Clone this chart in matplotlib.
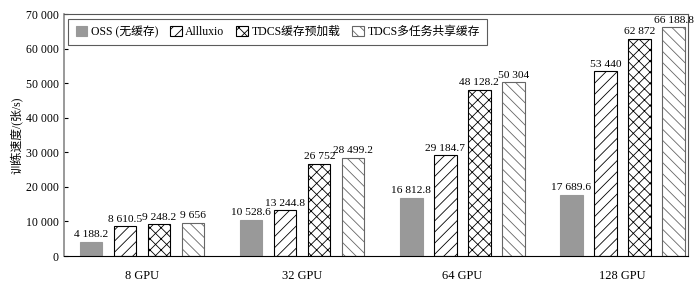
import matplotlib
matplotlib.use('Agg')
import matplotlib.pyplot as plt
import numpy as np

plt.rcParams['font.family'] = ['Liberation Serif', 'Noto Sans CJK SC']
plt.rcParams['hatch.linewidth'] = 0.6

# data
groups = ['8 GPU', '32 GPU', '64 GPU', '128 GPU']
series = ['OSS (无缓存)', 'Allluxio', 'TDCS缓存预加载', 'TDCS多任务共享缓存']
oss = [4188.2, 10528.6, 16812.8, 17689.6]
alluxio = [8610.5, 13244.8, 29184.7, 53440]
preload = [9248.2, 26752, 48128.2, 62872]
shared = [9656, 28499.2, 50304, 66188.8]
labels = [
    ['4 188.2', '10 528.6', '16 812.8', '17 689.6'],
    ['8 610.5', '13 244.8', '29 184.7', '53 440'],
    ['9 248.2', '26 752', '48 128.2', '62 872'],
    ['9 656', '28 499.2', '50 304', '66 188.8'],
]
yticks = [0, 10000, 20000, 30000, 40000, 50000, 60000, 70000]
ytick_labels = ['0', '10 000', '20 000', '30 000', '40 000', '50 000', '60 000', '70 000']

fig = plt.figure(figsize=(7, 2.87), dpi=100)
ax = fig.add_axes([0.091, 0.108, 0.892, 0.843])

x = np.arange(len(groups))
step = 0.2125
w = 0.14
styles = [
    dict(color='#999999', edgecolor='#999999', hatch=None),
    dict(color='white', edgecolor='black', hatch='///'),
    dict(color='white', edgecolor='black', hatch='xxx'),
    dict(color='white', edgecolor='#666666', hatch='\\\\\\'),
]
for i, vals in enumerate([oss, alluxio, preload, shared]):
    pos = x + (i - 1.5) * step
    st = styles[i]
    bars = ax.bar(pos, vals, w, color=st['color'], edgecolor=st['edgecolor'],
                  hatch=st['hatch'], linewidth=0.8, label=series[i])
    for b, t in zip(bars, labels[i]):
        ax.text(b.get_x() + b.get_width() / 2, b.get_height() + 700, t,
                ha='center', va='bottom', fontsize=8.2)

ax.set_xlim(-0.49, 3.41)
ax.set_ylim(0, 70000)
ax.set_xticks(x)
ax.set_xticklabels(groups, fontsize=9)
ax.set_yticks(yticks)
ax.set_yticklabels(ytick_labels, fontsize=8.5)
ax.tick_params(axis='x', length=0, pad=10)
ax.tick_params(axis='y', direction='in', length=3)
ax.set_ylabel('训练速度/(张/s)', fontsize=8.5, labelpad=2)

ax.spines['left'].set_color('#888888')
ax.spines['left'].set_linewidth(1.2)
for s in ['top', 'right']:
    ax.spines[s].set_color('#555555')
    ax.spines[s].set_linewidth(0.8)

leg = ax.legend(loc='upper left', ncol=4, fontsize=8.5, frameon=True, fancybox=False,
                edgecolor='#333333', handlelength=1.0, handleheight=1.0,
                columnspacing=1.0, handletextpad=0.3, borderaxespad=0.4,
                borderpad=0.6)
leg.get_frame().set_linewidth(0.8)

fig.savefig('out.png', dpi=100)
